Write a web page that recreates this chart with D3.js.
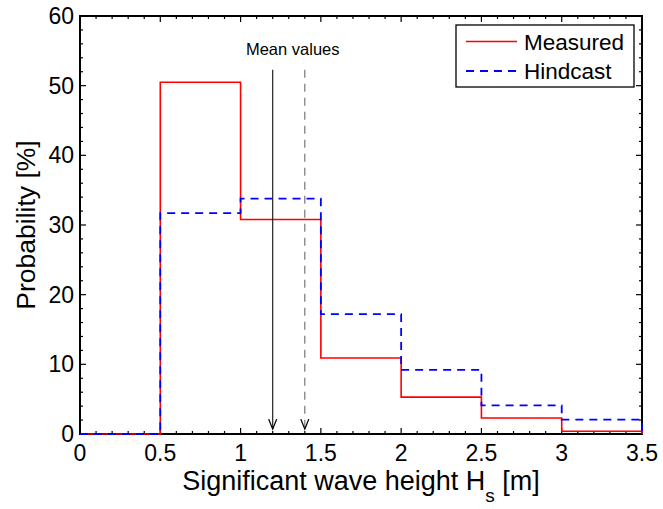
<!DOCTYPE html>
<html>
<head>
<meta charset="utf-8">
<script src="https://cdn.jsdelivr.net/npm/d3@7"></script>
<style>
  html, body { margin: 0; padding: 0; background: #fff; }
  svg { display: block; }
  text { font-family: "Liberation Sans", Arial, Helvetica, sans-serif; fill: #000; }
</style>
</head>
<body>
<script>
// Histogram bins of significant wave height [m]
const binEdges = [0, 0.5, 1, 1.5, 2, 2.5, 3, 3.5];
// Probability [%] per bin
const measured = [0, 50.5, 30.8, 10.9, 5.3, 2.3, 0.4];
const hindcast = [0, 31.7, 33.8, 17.2, 9.2, 4.1, 2.05];
// Mean significant wave heights [m]: measured, hindcast
const meanValues = [1.2, 1.4];
const seriesNames = ["Measured", "Hindcast"];
const xTicks = [0, 0.5, 1, 1.5, 2, 2.5, 3, 3.5];
const xTickLabels = ["0", "0.5", "1", "1.5", "2", "2.5", "3", "3.5"];
const yTicks = [0, 10, 20, 30, 40, 50, 60];
const yTickLabels = ["0", "10", "20", "30", "40", "50", "60"];

const W = 663, H = 509;
const margin = { left: 80, right: 21, top: 16, bottom: 75 };
const iw = W - margin.left - margin.right;
const ih = H - margin.top - margin.bottom;

const svg = d3.select("body").append("svg").attr("width", W).attr("height", H);
const g = svg.append("g").attr("transform", `translate(${margin.left},${margin.top})`);

const x = d3.scaleLinear().domain([0, 3.5]).range([0, iw]);
const y = d3.scaleLinear().domain([0, 60]).range([ih, 0]);

// Axes frame: inward ticks on all four sides, minor ticks between majors
const minorX = d3.range(0, 3.5001, 0.1);
const minorY = d3.range(0, 60.001, 2);
const tickG = g.append("g").attr("stroke", "#000").attr("stroke-width", 1.2);
minorX.forEach(v => {
  const major = xTicks.some(t => Math.abs(t - v) < 1e-6);
  const len = major ? 6 : 3;
  tickG.append("line").attr("x1", x(v)).attr("x2", x(v)).attr("y1", ih).attr("y2", ih - len);
  tickG.append("line").attr("x1", x(v)).attr("x2", x(v)).attr("y1", 0).attr("y2", len);
});
minorY.forEach(v => {
  const major = yTicks.some(t => Math.abs(t - v) < 1e-6);
  const len = major ? 6 : 3;
  tickG.append("line").attr("x1", 0).attr("x2", len).attr("y1", y(v)).attr("y2", y(v));
  tickG.append("line").attr("x1", iw).attr("x2", iw - len).attr("y1", y(v)).attr("y2", y(v));
});
g.append("rect").attr("x", 0).attr("y", 0).attr("width", iw).attr("height", ih)
  .attr("fill", "none").attr("stroke", "#000").attr("stroke-width", 2);

xTicks.forEach((t, i) => {
  g.append("text").attr("x", x(t)).attr("y", ih + 27)
    .attr("text-anchor", "middle").style("font-size", "23px").text(xTickLabels[i]);
});
yTicks.forEach((t, i) => {
  g.append("text").attr("x", -6).attr("y", y(t) + 8)
    .attr("text-anchor", "end").style("font-size", "23px").text(yTickLabels[i]);
});

// Step outline for a histogram series, closing to zero at both ends
function stepPoints(vals) {
  const pts = [[binEdges[0], 0]];
  vals.forEach((v, i) => {
    pts.push([binEdges[i], v]);
    pts.push([binEdges[i + 1], v]);
  });
  pts.push([binEdges[binEdges.length - 1], 0]);
  return pts;
}
const line = d3.line().x(d => x(d[0])).y(d => y(d[1]));

const plot = g.append("g");
plot.append("path").attr("d", line(stepPoints(measured)))
  .attr("fill", "none").attr("stroke", "#ff0000").attr("stroke-width", 1.6);
plot.append("path").attr("d", line(stepPoints(hindcast)))
  .attr("fill", "none").attr("stroke", "#0000ff").attr("stroke-width", 1.8)
  .attr("stroke-dasharray", "8,6");

// Mean value markers with arrows
const meanStyles = [
  { stroke: "#222", dash: null },
  { stroke: "#777", dash: "8,6" }
];
const arrowTop = 52.3, arrowTip = 0.7;
meanValues.forEach((m, i) => {
  const s = meanStyles[i];
  const xm = x(m);
  plot.append("line")
    .attr("x1", xm).attr("x2", xm)
    .attr("y1", y(arrowTop)).attr("y2", y(arrowTip))
    .attr("stroke", s.stroke).attr("stroke-width", 1.2)
    .attr("stroke-dasharray", s.dash);
  plot.append("path")
    .attr("d", `M${xm - 4},${y(arrowTip) - 10}L${xm},${y(arrowTip)}L${xm + 4},${y(arrowTip) - 10}`)
    .attr("fill", "none").attr("stroke", "#000").attr("stroke-width", 1.3);
});
g.append("text").attr("x", (x(meanValues[0]) + x(meanValues[1])) / 2 + 4).attr("y", 39)
  .attr("text-anchor", "middle").style("font-size", "16.5px").text("Mean values");

// Axis titles
const xl = svg.append("text").attr("x", margin.left + iw / 2).attr("y", 490)
  .attr("text-anchor", "middle").style("font-size", "27px");
xl.append("tspan").text("Significant wave height H");
xl.append("tspan").attr("dy", 12).style("font-size", "19px").text("s");
xl.append("tspan").attr("dy", -12).text(" [m]");

svg.append("text").attr("transform", `translate(35,${margin.top + ih / 2}) rotate(-90)`)
  .attr("text-anchor", "middle").style("font-size", "26.5px").text("Probability [%]");

// Legend
const leg = svg.append("g");
leg.append("rect").attr("x", 456).attr("y", 25).attr("width", 178).attr("height", 62)
  .attr("fill", "#fff").attr("stroke", "#000").attr("stroke-width", 1.3);
const legStyles = [
  { stroke: "#ff0000", dash: null, w: 1.6 },
  { stroke: "#0000ff", dash: "8,6", w: 1.8 }
];
seriesNames.forEach((n, i) => {
  const ly = 41.5 + i * 29.5;
  leg.append("line").attr("x1", 466).attr("x2", 517).attr("y1", ly).attr("y2", ly)
    .attr("stroke", legStyles[i].stroke).attr("stroke-width", legStyles[i].w)
    .attr("stroke-dasharray", legStyles[i].dash);
  leg.append("text").attr("x", 524).attr("y", ly + 8).style("font-size", "22.5px").text(n);
});
</script>
</body>
</html>
